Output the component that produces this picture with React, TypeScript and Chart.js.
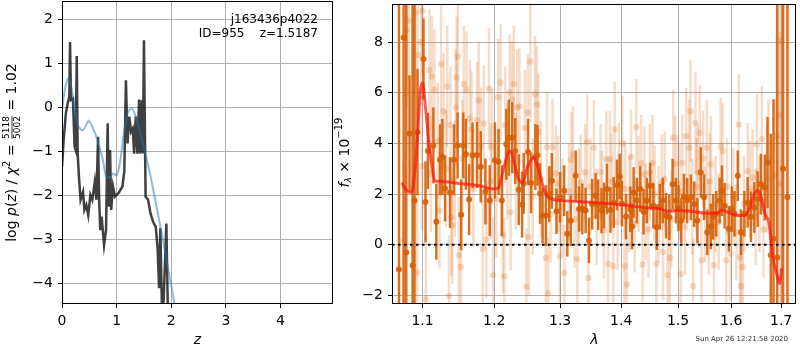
import React, { useEffect, useRef } from 'react';
import { Chart, registerables } from 'chart.js';
Chart.register(...registerables);

const FONT = '"DejaVu Sans", sans-serif';

// ---------- left panel: log p(z) ----------
const zBlack = [0, 0.03, 0.07, 0.11, 0.134, 0.147, 0.165, 0.2, 0.23, 0.25, 0.27, 0.287, 0.31, 0.34, 0.385, 0.41, 0.445, 0.48, 0.52, 0.555, 0.6, 0.63, 0.66, 0.68, 0.7, 0.725, 0.77, 0.806, 0.836, 0.855, 0.88, 0.9, 0.934, 0.97, 1.04, 1.105, 1.14, 1.17, 1.2, 1.23, 1.264, 1.294, 1.32, 1.35, 1.38, 1.41, 1.43, 1.46, 1.48, 1.5, 1.53, 1.575, 1.62, 1.667, 1.715, 1.75, 1.777, 1.8, 1.83, 1.86, 1.91, 1.94, 1.97];
const pBlack = [-1.35, -0.74, -0.14, 0.13, 0.24, 1.49, 0.17, 0.2, -0.89, -0.97, 1.17, -1.05, -1.58, -2.1, -1.92, -2.33, -2.22, -2.45, -1.99, -2.1, -1.69, -2.1, -0.67, -2.1, -2.79, -2.48, -3.13, -2.79, -0.36, -2.26, -0.97, -2.33, -1.8, -2.03, -1.94, -1.8, -1.46, 0.62, -0.82, -0.21, -0.55, -0.48, -1.05, -0.21, -1.05, 0.18, -1.05, 0.17, -1.05, 1.53, -2.03, -2.1, -2.41, -2.6, -2.71, -3.2, -4.11, -2.75, -4.6, -4.4, -2.64, -4.8, -6.0];
const zBlue = [0, 0.05, 0.11, 0.15, 0.21, 0.29, 0.38, 0.46, 0.49, 0.54, 0.63, 0.75, 0.81, 0.89, 0.93, 1.0, 1.06, 1.13, 1.21, 1.27, 1.33, 1.42, 1.51, 1.61, 1.73, 1.85, 1.97, 2.06, 2.12];
const pBlue = [-0.06, 0.39, 0.66, 0.58, 0.17, -0.4, -0.52, -0.36, -0.3, -0.4, -0.67, -1.2, -1.58, -1.58, -1.5, -1.54, -1.27, -0.59, -0.1, -0.02, -0.14, -0.52, -0.97, -1.5, -2.26, -3.02, -3.85, -4.47, -4.9];
const zTicks = [0, 1, 2, 3, 4];
const pTicks = [-4, -3, -2, -1, 0, 1, 2];

// ---------- right panel: spectrum ----------
const lamTicks = [1.1, 1.2, 1.3, 1.4, 1.5, 1.6, 1.7];
const fTicks = [-2, 0, 2, 4, 6, 8];

const lamModel = [1.073, 1.076, 1.084, 1.087, 1.093, 1.097, 1.100, 1.104, 1.110, 1.117, 1.121, 1.150, 1.180, 1.198, 1.2065, 1.213, 1.2226, 1.2265, 1.235, 1.242, 1.250, 1.259, 1.264, 1.279, 1.3025, 1.355, 1.400, 1.447, 1.469, 1.478, 1.500, 1.527, 1.554, 1.5746, 1.582, 1.594, 1.613, 1.627, 1.637, 1.647, 1.654, 1.661, 1.667, 1.675, 1.682, 1.6925, 1.697, 1.701];
const fModel = [2.45, 2.26, 2.06, 2.2, 4.09, 6.05, 6.38, 5.4, 3.7, 2.52, 2.5, 2.42, 2.32, 2.2, 2.26, 2.91, 3.7, 3.57, 2.65, 2.45, 3.1, 3.44, 3.18, 1.93, 1.74, 1.67, 1.58, 1.45, 1.41, 1.32, 1.35, 1.31, 1.24, 1.25, 1.37, 1.28, 1.15, 1.15, 1.47, 2.06, 2.13, 1.74, 1.22, 0.89, -0.35, -1.27, -1.53, -0.94];

const lamDark = [
  1.0690, 1.0751, 1.0785, 1.0828, 1.0868, 1.0894, 1.0933, 1.1013, 1.1040, 1.1072,
  1.1146, 1.1186, 1.1237, 1.1268, 1.1305, 1.1373, 1.1428, 1.1479, 1.1529, 1.1557,
  1.1594, 1.1640, 1.1689, 1.1753, 1.1806, 1.1873, 1.1935, 1.2010, 1.2064, 1.2112,
  1.2177, 1.2214, 1.2266, 1.2310, 1.2363, 1.2414, 1.2438, 1.2504, 1.2550, 1.2615,
  1.2649, 1.2687, 1.2726, 1.2778, 1.2829, 1.2871, 1.2942, 1.3000, 1.3063, 1.3114,
  1.3169, 1.3248, 1.3302, 1.3355, 1.3409, 1.3463, 1.3517, 1.3572, 1.3614, 1.3670,
  1.3713, 1.3762, 1.3819, 1.3874, 1.3929, 1.3975, 1.4012, 1.4084, 1.4157, 1.4185,
  1.4213, 1.4269, 1.4328, 1.4385, 1.4442, 1.4502, 1.4559, 1.4617, 1.4671, 1.4724,
  1.4784, 1.4843, 1.4902, 1.4963, 1.5010, 1.5060, 1.5108, 1.5168, 1.5236, 1.5297,
  1.5357, 1.5421, 1.5482, 1.5543, 1.5608, 1.5656, 1.5713, 1.5778, 1.5822, 1.5873,
  1.5955, 1.6013, 1.6065, 1.6129, 1.6193, 1.6259, 1.6324, 1.6389, 1.6456, 1.6522,
  1.6588, 1.6667, 1.6722, 1.6788, 1.6843, 1.6919, 1.7041, 1.7131,
];
const fDark = [
  -0.98, 8.18, -0.31, 4.39, -0.82, 1.74, 4.44, 7.33, 1.69, 3.70,
  3.92, 0.91, 3.35, 3.46, 2.22, 2.06, 3.35, 3.92, 1.18, 3.92,
  3.57, 1.78, 3.53, 3.54, 3.08, 2.10, 1.74, 3.33, 3.27, 1.74,
  3.96, 4.22, 4.22, 3.70, 2.17, 1.58, 2.42, 3.66, 2.44, 3.46,
  3.53, 2.02, 1.15, 1.15, 2.00, 2.52, 1.32, 1.87, 2.13, 0.43,
  0.95, 2.72, 1.41, 1.41, 1.35, 0.17, 1.60, 1.93, 1.58, 1.35,
  1.55, 2.20, 1.37, 1.67, 2.36, 2.69, 1.63, 1.11, 1.40, 0.72,
  2.06, 1.74, 2.20, 1.30, 1.74, 2.33, 1.54, 0.69, 1.50, 1.74,
  1.15, 1.08, 2.39, 1.74, 1.45, 0.95, 1.90, 1.74, 1.87, 1.60,
  0.95, 2.85, 1.87, 0.49, 0.72, 1.10, 1.22, 1.74, 2.13, 1.54,
  0.63, 1.40, 1.22, 2.72, 0.49, 1.22, 1.67, 1.10, 1.47, 1.80,
  2.39, 2.26, 3.24, -0.42, 0.24, -0.50, 3.00, 1.87,
];
const eDark = [
  20, 20, 20, 2.3, 20, 20, 2.5, 1.6, 1.6, 1.5,
  1.5, 1.5, 1.4, 1.5, 1.3, 1.4, 1.4, 1.3, 1.4, 1.3,
  1.4, 1.4, 1.3, 1.3, 1.4, 1.3, 1.4, 1.5, 1.3, 1.4,
  1.4, 1.5, 1.4, 1.3, 1.4, 1.3, 1.2, 1.3, 1.2, 1.3,
  1.2, 1.2, 1.1, 1.2, 1.1, 1.1, 0.9, 1.0, 1.0, 0.9,
  1.0, 1.0, 0.9, 1.0, 0.9, 0.9, 1.0, 0.9, 1.0, 0.9,
  0.9, 1.0, 0.9, 1.0, 1.0, 0.9, 0.9, 0.9, 0.9, 0.9,
  1.0, 0.9, 0.9, 0.9, 0.9, 0.9, 0.9, 0.9, 0.9, 0.9,
  0.9, 0.9, 1.0, 0.9, 0.9, 0.9, 0.9, 0.9, 0.9, 0.9,
  0.9, 1.0, 0.9, 0.9, 0.9, 0.9, 0.9, 0.9, 1.0, 0.9,
  0.9, 0.9, 0.9, 1.0, 0.9, 0.9, 1.0, 1.0, 1.0, 1.1,
  1.2, 1.3, 1.8, 4.8, 5.5, 20, 20, 20,
];

const lamLight = [
  1.0747, 1.0791, 1.0815, 1.0903, 1.0928, 1.0939, 1.0983, 1.0992, 1.1000, 1.1045,
  1.1093, 1.1125, 1.1160, 1.1230, 1.1251, 1.1284, 1.1336, 1.1359, 1.1380, 1.1393,
  1.1405, 1.1452, 1.1465, 1.1483, 1.1496, 1.1525, 1.1566, 1.1604, 1.1651, 1.1675,
  1.1753, 1.1777, 1.1835, 1.1849, 1.1887, 1.1925, 1.1968, 1.1985, 1.2058, 1.2094,
  1.2127, 1.2149, 1.2162, 1.2226, 1.2241, 1.2260, 1.2289, 1.2339, 1.2374, 1.2478,
  1.2498, 1.2513, 1.2539, 1.2610, 1.2637, 1.2660, 1.2775, 1.2794, 1.2813, 1.2880,
  1.2933, 1.2995, 1.3067, 1.3178, 1.3205, 1.3273, 1.3329, 1.3400, 1.3435, 1.3455,
  1.3544, 1.3654, 1.3708, 1.3750, 1.3779, 1.3810, 1.3865, 1.3891, 1.3959, 1.4020,
  1.4057, 1.4096, 1.4167, 1.4260, 1.4346, 1.4370, 1.4402, 1.4495, 1.4542, 1.4610,
  1.4706, 1.4730, 1.4812, 1.4850, 1.4914, 1.4950, 1.4995, 1.5050, 1.5078, 1.5150,
  1.5205, 1.5230, 1.5278, 1.5321, 1.5365, 1.5402, 1.5432, 1.5464, 1.5535, 1.5570,
  1.5613, 1.5669, 1.5797, 1.5835, 1.5903, 1.5988, 1.6148, 1.6170, 1.6193, 1.6226,
  1.6324, 1.6422, 1.6507, 1.6608, 1.6707, 1.6742, 1.6857, 1.6911, 1.6960, 1.6976,
  1.7007,
];
const fLight = [
  0.20, 8.47, 8.84, 9.16, -1.09, 7.49, 8.00, 3.10, 9.23, -2.15,
  6.90, 6.64, 6.12, 1.35, 7.12, 5.27, 6.25, -2.02, 4.72, 1.08,
  0.76, 5.42, 6.60, 7.42, -0.42, -0.88, 6.34, 6.12, 4.98, 4.55,
  4.91, 5.69, -0.16, 4.78, 0.20, 6.16, 3.87, -1.20, 5.82, 6.40,
  0.39, -1.24, 4.72, 6.01, 1.28, 5.73, 6.34, 5.42, 5.46, -1.66,
  5.22, 0.30, 7.23, 5.95, 5.53, 4.44, -0.52, 3.85, -1.92, 3.85,
  2.81, -0.46, -1.11, 3.35, 3.57, -0.55, 2.45, 2.85, 4.06, -1.31,
  3.83, 2.87, 0.56, 3.37, -0.75, 3.37, -0.85, 4.55, 2.91, 3.98,
  -0.85, -1.57, 3.46, 4.64, 3.22, -0.78, 2.78, 2.85, 3.22, -0.75,
  2.45, -0.29, -1.20, -0.52, 4.22, 3.20, 2.42, -1.16, 3.24, 4.29,
  3.83, 5.27, -1.64, 4.81, 2.85, 4.42, -0.62, 3.40, 3.83, 0.69,
  3.18, -0.81, 3.89, 3.70, -0.62, -0.35, 4.74, -0.49, -1.64, -0.88,
  2.90, 2.65, 3.96, 4.16, 2.59, 3.44, 2.72, 4.29, 5.10, 2.40,
  8.04,
];
const eLight = [
  3.0, 3.0, 3.0, 3.0, 3.0, 2.5, 2.5, 2.5, 2.5, 2.5,
  2.4, 2.4, 2.4, 2.3, 2.4, 2.3, 2.4, 2.4, 2.3, 2.3,
  2.3, 2.3, 2.4, 2.4, 2.3, 2.3, 2.3, 2.3, 2.3, 2.3,
  2.3, 2.3, 2.3, 2.3, 2.3, 2.4, 2.3, 2.3, 2.3, 2.3,
  2.3, 2.3, 2.3, 2.3, 2.3, 2.3, 2.3, 2.3, 2.3, 2.3,
  2.3, 2.3, 2.4, 2.3, 2.3, 2.3, 2.2, 2.2, 2.2, 1.9,
  1.9, 1.9, 1.9, 1.9, 1.9, 1.9, 1.9, 1.9, 1.9, 1.9,
  1.9, 1.9, 1.9, 1.9, 1.9, 1.9, 1.9, 1.9, 1.9, 1.9,
  1.9, 1.9, 1.9, 1.9, 1.9, 1.9, 1.9, 1.9, 1.9, 1.9,
  1.9, 1.9, 1.9, 1.9, 1.9, 1.9, 1.9, 1.9, 1.9, 1.9,
  1.9, 2.0, 1.9, 2.0, 1.9, 1.9, 1.9, 1.9, 1.9, 1.9,
  1.9, 1.9, 1.9, 1.9, 1.9, 1.9, 2.0, 1.9, 1.9, 1.9,
  1.9, 1.9, 2.0, 2.1, 2.1, 2.3, 3.0, 4.0, 5.0, 6.0,
  20,
];

// light points lying in the continuum band (partly hidden behind the dark ones)
const lamLight2 = [
  1.1110, 1.1205, 1.1320, 1.1440, 1.1545, 1.1700, 1.1810, 1.1950, 1.2030, 1.2195,
  1.2320, 1.2455, 1.2575, 1.2700, 1.2850, 1.2970, 1.3035, 1.3140, 1.3230, 1.3300,
  1.3490, 1.3590, 1.3680, 1.3840, 1.3940, 1.4070, 1.4140, 1.4230, 1.4300, 1.4420,
  1.4470, 1.4580, 1.4650, 1.4760, 1.4880, 1.5030, 1.5130, 1.5260, 1.5340, 1.5500,
  1.5590, 1.5700, 1.5760, 1.5920, 1.6040, 1.6100, 1.6250, 1.6370, 1.6480, 1.6560,
  1.6640,
];
const fLight2 = [
  2.8, 4.1, 3.0, 2.6, 3.4, 2.2, 3.9, 2.5, 1.8, 3.3,
  2.9, 4.6, 1.9, 2.6, 1.2, 2.4, 1.5, 2.1, 1.0, 1.9,
  2.3, 1.1, 1.8, 2.5, 0.9, 2.2, 1.6, 0.8, 2.4, 1.3,
  0.6, 2.0, 1.2, 2.6, 1.0, 2.1, 0.7, 1.5, 2.3, 1.2,
  2.5, 1.6, 0.9, 2.3, 1.9, 0.5, 1.6, 2.2, 1.1, 1.6,
  0.6,
];
const eLight2 = [
  2.3, 2.3, 2.3, 2.3, 2.3, 2.3, 2.3, 2.3, 2.3, 2.3,
  2.3, 2.3, 2.3, 2.3, 1.9, 1.9, 1.9, 1.9, 1.9, 1.9,
  1.9, 1.9, 1.9, 1.9, 1.9, 1.9, 1.9, 1.9, 1.9, 1.9,
  1.9, 1.9, 1.9, 1.9, 1.9, 1.9, 1.9, 1.9, 1.9, 1.9,
  1.9, 1.9, 1.9, 1.9, 1.9, 1.9, 1.9, 1.9, 1.9, 1.9,
  1.9,
];

const ORANGE_DARK = 'rgba(213,96,8,0.9)';
const ORANGE_LIGHT = 'rgba(213,96,8,0.22)';

const fmtNum = (v: number) => (v < 0 ? '\u2212' + Math.abs(v) : String(v));

type Seg = { t: string; size: number; italic?: boolean; dy?: number; frac?: [string, string] };

function drawVerticalRich(ctx: CanvasRenderingContext2D, cx: number, cy: number, segs: Seg[]) {
  ctx.save();
  ctx.translate(cx, cy);
  ctx.rotate(-Math.PI / 2);
  ctx.fillStyle = '#000';
  ctx.textBaseline = 'middle';
  ctx.textAlign = 'left';
  const font = (s: Seg) => `${s.italic ? 'italic ' : ''}${s.size}px ${FONT}`;
  const widths = segs.map((s) => {
    ctx.font = font(s);
    if (s.frac) return Math.max(ctx.measureText(s.frac[0]).width, ctx.measureText(s.frac[1]).width) + 2;
    return ctx.measureText(s.t).width;
  });
  const total = widths.reduce((a, b) => a + b, 0);
  let x = -total / 2;
  segs.forEach((s, i) => {
    ctx.font = font(s);
    if (s.frac) {
      const w = widths[i];
      ctx.textAlign = 'center';
      ctx.fillText(s.frac[0], x + w / 2, -s.size * 0.6);
      ctx.fillText(s.frac[1], x + w / 2, s.size * 0.65);
      ctx.fillRect(x + 1, -0.4, w - 2, 0.8);
      ctx.textAlign = 'left';
    } else {
      ctx.fillText(s.t, x, s.dy || 0);
    }
    x += widths[i];
  });
  ctx.restore();
}

const errorBarPlugin = {
  id: 'errbars',
  beforeDatasetDraw(chart: any, args: any) {
    const ds: any = chart.data.datasets[args.index];
    if (!ds.errors) return;
    const { ctx, chartArea: a, scales } = chart;
    ctx.save();
    ctx.beginPath();
    ctx.rect(a.left, a.top, a.right - a.left, a.bottom - a.top);
    ctx.clip();
    ctx.strokeStyle = ds.errColor;
    ctx.lineWidth = ds.errWidth;
    ds.data.forEach((p: any, i: number) => {
      const x = scales.x.getPixelForValue(p.x);
      const y1 = scales.y.getPixelForValue(p.y - ds.errors[i]);
      const y2 = scales.y.getPixelForValue(p.y + ds.errors[i]);
      ctx.beginPath();
      ctx.moveTo(x, y1);
      ctx.lineTo(x, y2);
      ctx.stroke();
    });
    ctx.restore();
  },
};

const framePlugin = {
  id: 'frame',
  afterDraw(chart: any) {
    const { ctx, chartArea: a } = chart;
    ctx.save();
    ctx.strokeStyle = '#000';
    ctx.lineWidth = 1;
    ctx.strokeRect(Math.round(a.left) + 0.5, Math.round(a.top) + 0.5, Math.round(a.right - a.left) - 1, Math.round(a.bottom - a.top) - 1);
    ctx.restore();
  },
};

const tickFont = { family: FONT, size: 14 };

function fixSize(dim: 'width' | 'height', v: number) {
  return (s: any) => {
    s[dim] = v;
    s.paddingTop = 0;
    s.paddingBottom = 0;
    s.paddingLeft = 0;
    s.paddingRight = 0;
  };
}

function axisBase(min: number, max: number, ticks: number[], fmt: (v: number) => string) {
  return {
    min,
    max,
    afterBuildTicks: (s: any) => {
      s.ticks = ticks.map((v) => ({ value: v }));
    },
    ticks: { font: tickFont, color: '#000', autoSkip: false, maxRotation: 0, padding: 5, callback: (v: any) => fmt(Number(v)) },
    grid: { color: '#b0b0b0', lineWidth: 1, tickColor: '#000', tickLength: 4 },
    border: { display: false },
  };
}

export default function App() {
  const leftRef = useRef<HTMLCanvasElement>(null);
  const rightRef = useRef<HTMLCanvasElement>(null);

  useEffect(() => {
    const leftText = {
      id: 'leftText',
      afterDraw(chart: any) {
        const ctx = chart.ctx as CanvasRenderingContext2D;
        ctx.save();
        ctx.fillStyle = '#000';
        ctx.font = `12px ${FONT}`;
        ctx.textAlign = 'right';
        ctx.textBaseline = 'middle';
        ctx.fillText('j163436p4022', 318, 20);
        ctx.fillText('ID=955    z=1.5187', 318, 34);
        ctx.textAlign = 'center';
        ctx.font = `italic 14px ${FONT}`;
        ctx.fillText('z', 197.5, 340);
        ctx.restore();
        drawVerticalRich(ctx, 12, 152.5, [
          { t: 'log ', size: 14 },
          { t: 'p', size: 14, italic: true },
          { t: '(', size: 14 },
          { t: 'z', size: 14, italic: true },
          { t: ') / ', size: 14 },
          { t: '\u03c7', size: 14, italic: true },
          { t: '2', size: 10, dy: -5 },
          { t: ' = ', size: 14 },
          { t: '', size: 9, frac: ['5118', '5002'] },
          { t: ' = 1.02', size: 14 },
        ]);
      },
    };

    const left = new Chart(leftRef.current!, {
      type: 'scatter',
      data: {
        datasets: [
          {
            data: zBlue.map((x, i) => ({ x, y: pBlue[i] })),
            showLine: true,
            borderColor: 'rgba(31,119,180,0.5)',
            borderWidth: 2,
            pointRadius: 0,
            tension: 0.3,
            order: 0,
          } as any,
          {
            data: zBlack.map((x, i) => ({ x, y: pBlack[i] })),
            showLine: true,
            borderColor: 'rgba(0,0,0,0.75)',
            borderWidth: 2.5,
            pointRadius: 0,
            order: 1,
          } as any,
        ],
      },
      options: {
        animation: false,
        responsive: false,
        events: [],
        layout: { padding: { top: 1, right: 7, left: 0, bottom: 0 } },
        plugins: { legend: { display: false }, tooltip: { enabled: false } },
        scales: {
          x: { type: 'linear', ...axisBase(0, 4.96, zTicks, fmtNum), afterFit: fixSize('height', 46) } as any,
          y: { type: 'linear', ...axisBase(-4.47, 2.42, pTicks, fmtNum), afterFit: fixSize('width', 62) } as any,
        },
      },
      plugins: [framePlugin, leftText],
    });

    const rightText = {
      id: 'rightText',
      afterDraw(chart: any) {
        const ctx = chart.ctx as CanvasRenderingContext2D;
        ctx.save();
        ctx.fillStyle = '#000';
        ctx.textAlign = 'center';
        ctx.textBaseline = 'middle';
        ctx.font = `italic 14px ${FONT}`;
        ctx.fillText('\u03bb', 594.5 - 334, 340);
        ctx.fillStyle = '#333';
        ctx.font = `7px ${FONT}`;
        ctx.textAlign = 'right';
        ctx.fillText('Sun Apr 26 12:21:58 2020', 788 - 334, 339);
        ctx.restore();
        drawVerticalRich(ctx, 345 - 334, 152.5, [
          { t: 'f', size: 14, italic: true },
          { t: '\u03bb', size: 9, italic: true, dy: 4 },
          { t: ' \u00d7 10', size: 14 },
          { t: '\u221219', size: 10, dy: -6 },
        ]);
      },
    };

    const right = new Chart(rightRef.current!, {
      type: 'scatter',
      data: {
        datasets: [
          {
            data: lamModel.map((x, i) => ({ x, y: fModel[i] })),
            showLine: true,
            borderColor: 'rgba(255,20,10,0.7)',
            borderWidth: 3,
            pointRadius: 0,
            cubicInterpolationMode: 'monotone',
            order: 0,
          } as any,
          {
            data: [{ x: 1.06, y: 0 }, { x: 1.731, y: 0 }],
            showLine: true,
            borderColor: '#000',
            borderWidth: 2,
            borderDash: [2.5, 3.5],
            pointRadius: 0,
            order: 1,
          } as any,
          {
            data: lamDark.map((x, i) => ({ x, y: fDark[i] })),
            errors: eDark,
            errColor: ORANGE_DARK,
            errWidth: 2.5,
            backgroundColor: ORANGE_DARK,
            borderWidth: 0,
            pointRadius: 3,
            order: 2,
          } as any,
          {
            data: lamLight2.map((x, i) => ({ x, y: fLight2[i] })),
            errors: eLight2,
            errColor: ORANGE_LIGHT,
            errWidth: 2.5,
            backgroundColor: ORANGE_LIGHT,
            borderWidth: 0,
            pointRadius: 3.2,
            order: 3,
          } as any,
          {
            data: lamLight.map((x, i) => ({ x, y: fLight[i] })),
            errors: eLight,
            errColor: ORANGE_LIGHT,
            errWidth: 2.5,
            backgroundColor: ORANGE_LIGHT,
            borderWidth: 0,
            pointRadius: 3.2,
            order: 4,
          } as any,
        ],
      },
      options: {
        animation: false,
        responsive: false,
        events: [],
        layout: { padding: { top: 1, right: 1, left: 0, bottom: 0 } },
        plugins: { legend: { display: false }, tooltip: { enabled: false } },
        scales: {
          x: { type: 'logarithmic', ...axisBase(1.06, 1.731, lamTicks, (v) => v.toFixed(1)), afterFit: fixSize('height', 46) } as any,
          y: { type: 'linear', ...axisBase(-2.34, 9.5, fTicks, fmtNum), afterFit: fixSize('width', 58) } as any,
        },
      },
      plugins: [errorBarPlugin, framePlugin, rightText],
    });

    return () => {
      left.destroy();
      right.destroy();
    };
  }, []);

  return (
    <div style={{ position: 'absolute', left: 0, top: 0, width: 800, height: 350, background: '#fff', overflow: 'hidden' }}>
      <canvas ref={leftRef} width={340} height={350} style={{ position: 'absolute', left: 0, top: 0, width: 340, height: 350 }} />
      <canvas ref={rightRef} width={466} height={350} style={{ position: 'absolute', left: 334, top: 0, width: 466, height: 350 }} />
    </div>
  );
}
